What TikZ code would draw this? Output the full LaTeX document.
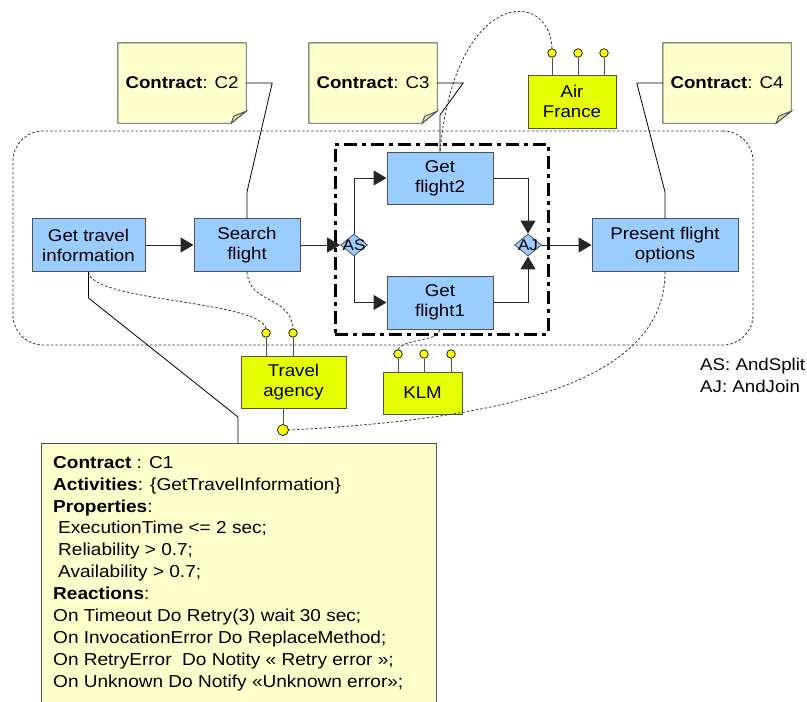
\documentclass[tikz,border=0pt]{standalone}
\usepackage{fontspec}
\setmainfont[FakeStretch=1.1]{Liberation Sans}
\usetikzlibrary{arrows.meta,shapes.geometric,backgrounds}
\definecolor{boxblue}{RGB}{153,204,255}
\definecolor{limey}{RGB}{230,255,0}
\definecolor{notey}{RGB}{255,255,204}
\definecolor{foldc}{RGB}{221,221,170}
\definecolor{pinyel}{RGB}{255,255,0}
\definecolor{edgegray}{RGB}{80,80,80}
\tikzset{
  txt/.style={font=\fontsize{17}{20}\selectfont},
  act/.style={txt, draw=edgegray, fill=boxblue, line width=1pt, align=center, inner sep=0pt},
  svc/.style={txt, draw=edgegray, fill=limey, line width=1pt, align=center, inner sep=0pt},
  notebox/.style={txt, inner sep=0pt, minimum width=128pt, minimum height=80pt},
  notepath/.style={fill=notey, draw=edgegray, line width=0.9pt},
  foldpath/.style={fill=foldc, draw=edgegray, line width=0.9pt},
  pinball/.style={circle, draw=black, fill=pinyel, line width=0.7pt, minimum size=8.5pt, inner sep=0pt},
  bigpinball/.style={pinball, minimum size=11pt},
  stem/.style={draw=edgegray, line width=1pt},
  flow/.style={draw=black!85, line width=1pt, -{Triangle[length=13pt,width=15pt]}},
  dotline/.style={draw=black!80, line width=0.8pt, dash pattern=on 2.5pt off 2pt},
  link/.style={draw=black, line width=0.8pt},
  gate/.style={diamond, draw=edgegray, fill=boxblue, line width=0.8pt, minimum width=27pt, minimum height=22pt, inner sep=0pt},
  gatetxt/.style={font=\fontsize{15.5}{16}\selectfont, inner sep=0pt},
}
\begin{document}
\begin{tikzpicture}[x=1pt,y=-1pt]
\useasboundingbox (0,0) rectangle (807,702);

% outer group
\node[dotline, rounded corners=30pt, minimum width=740pt, minimum height=214pt, inner sep=0pt] (grp) at (383,238) {};

% parallel block
\node[draw=black, line width=3pt, dash pattern=on 13pt off 5pt on 4pt off 5pt, minimum width=213pt, minimum height=190pt, inner sep=0pt] (par) at (441.5,239) {};

% activities
\node[act, minimum width=113pt, minimum height=53pt] (gti) at (88.5,245) {Get travel\\information};
\node[act, minimum width=106pt, minimum height=53pt] (sf) at (247,245) {Search\\flight};
\node[act, minimum width=106pt, minimum height=52pt] (gf2) at (440,178) {Get\\flight2};
\node[act, minimum width=106pt, minimum height=53pt] (gf1) at (440,302.5) {Get\\flight1};
\node[act, minimum width=146pt, minimum height=53pt] (pfo) at (665,245) {Present flight\\options};

% gates
\node[gate] (as) at (354,245) {};
\node[gatetxt] (astxt) at (as) {AS};
\node[gate] (aj) at (528,245) {};
\node[gatetxt] (ajtxt) at (aj) {AJ};

% flows
\draw[flow] (gti.east) -- (sf.west);
\draw[flow] (sf.east) -- (as.west);
\draw[flow] (as.north) |- (gf2.west);
\draw[flow] (as.south) |- (gf1.west);
\draw[flow] (gf2.east) -| (aj.north);
\draw[flow] (gf1.east) -| (aj.south);
\draw[flow] (aj.east) -- (pfo.west);

% services
\node[svc, minimum width=88pt, minimum height=53pt] (af) at (572,101.5) {Air\\France};
\node[svc, minimum width=105pt, minimum height=52pt] (ta) at (293.5,382) {Travel\\agency};
\node[svc, minimum width=79pt, minimum height=42pt] (klm) at (422.5,393) {KLM};

% pins
\node[pinball] (af1) at (552,53) {};
\node[pinball] (af2) at (578,53) {};
\node[pinball] (af3) at (604,53) {};
\node[pinball] (ta1) at (266,333) {};
\node[pinball] (ta2) at (293,333) {};
\node[bigpinball] (tab) at (283,430) {};
\node[pinball] (k1) at (398,354) {};
\node[pinball] (k2) at (424,354) {};
\node[pinball] (k3) at (451,354) {};
\foreach \p/\b in {af1/af,af2/af,af3/af,ta1/ta,ta2/ta,k1/klm,k2/klm,k3/klm}
  \draw[stem] (\p.south) -- (\p.south |- \b.north);
\draw[stem] (tab.north |- ta.south) -- (tab.north);

% dotted bindings
\draw[dotline] (gti.south) .. controls (92,302) and (258,300) .. (ta1.north);
\draw[dotline] (sf.south) .. controls (250,305) and (290,295) .. (ta2.north);
\draw[dotline] (k1.north) .. controls (405,338) and (438,342) .. (gf1.south);
\draw[dotline] (pfo.south) .. controls (665,390) and (480,420) .. (tab.east);
\draw[dotline] (af1.north) .. controls (550,-12) and (455,-12) .. (gf2.north);

% notes
\node[notebox] (c2) at (182,83) {\textbf{Contract}: C2};
\node[notebox] (c3) at (373,83) {\textbf{Contract}: C3};
\node[notebox] (c4) at (727,83) {\textbf{Contract}: C4};
\begin{scope}[on background layer]
\foreach \n in {c2,c3,c4}{
  \draw[notepath] (\n.north west) -- (\n.north east) -- ([shift={(0,-12)}]\n.south east) -- ([shift={(-15,0)}]\n.south east) -- (\n.south west) -- cycle;
  \draw[foldpath] ([shift={(0,-12)}]\n.south east) -- ([shift={(-12.5,-7)}]\n.south east) -- ([shift={(-15,0)}]\n.south east) -- cycle;
}
\end{scope}
\draw[link] (c2.east) -- ++(26,0) -- (247,192) -- (sf.north);
\draw[link] (c3.east) -- ++(26,0) -- (440,115) -- (gf2.north);
\draw[link] (c4.west) -- ++(-26,0) -- (665,192) -- (pfo.north);

% contract C1
\node[draw=edgegray, fill=notey, line width=1pt, anchor=north west, minimum width=395pt, minimum height=275pt, inner sep=0pt] (c1) at (41,443) {};
\node[anchor=north west, align=left, inner sep=0pt, font=\fontsize{17.3}{21.9}\selectfont] (c1text) at (53,456) {%
\textbf{Contract} : C1\\
\textbf{Activities}: \{GetTravelInformation\}\\
\textbf{Properties}:\\
\hspace*{5pt}ExecutionTime <= 2 sec;\\
\hspace*{5pt}Reliability > 0.7;\\
\hspace*{5pt}Availability > 0.7;\\
\textbf{Reactions}:\\
On Timeout Do Retry(3) wait 30 sec;\\
On InvocationError Do ReplaceMethod;\\
On RetryError\ \ Do Notity « Retry error »;\\
On Unknown Do Notify «Unknown error»;};
\draw[link] (gti.south) -- ++(0,26) -- (238,417) -- ([shift={(197,0)}]c1.north west);

% legend
\node[txt, anchor=west, inner sep=0pt] (leg1) at (700,366) {AS: AndSplit};
\node[txt, anchor=west, inner sep=0pt] (leg2) at (700,386) {AJ: AndJoin};
\end{tikzpicture}
\end{document}
